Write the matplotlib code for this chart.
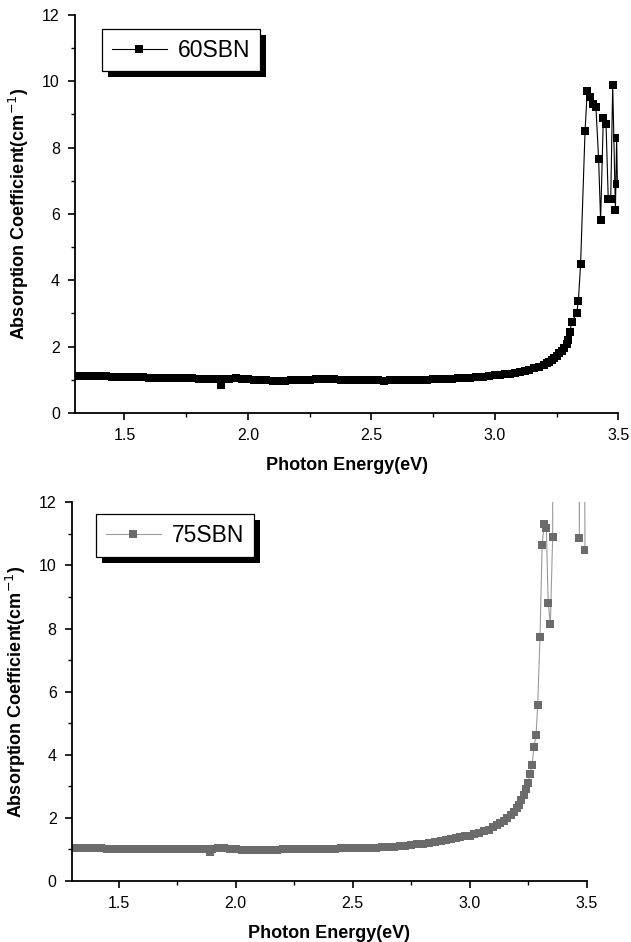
import matplotlib
matplotlib.use("Agg")
import matplotlib.pyplot as plt
from matplotlib.ticker import MultipleLocator, AutoMinorLocator, FormatStrFormatter
from matplotlib.patches import Rectangle
from matplotlib.transforms import IdentityTransform

plt.rcParams['font.family'] = ['Liberation Sans', 'DejaVu Sans']

# 60SBN (top panel)
energy_60 = [1.300, 1.325, 1.350, 1.375, 1.400, 1.425, 1.450, 1.475, 1.500, 1.525,
             1.550, 1.575, 1.600, 1.625, 1.650, 1.675, 1.700, 1.725, 1.750, 1.775,
             1.800, 1.825, 1.850, 1.875, 1.890, 1.900, 1.925, 1.950, 1.975, 2.000,
             2.025, 2.050, 2.075, 2.100, 2.125, 2.150, 2.175, 2.200, 2.225, 2.250,
             2.275, 2.300, 2.325, 2.350, 2.375, 2.400, 2.425, 2.450, 2.475, 2.500,
             2.525, 2.550, 2.575, 2.600, 2.625, 2.650, 2.675, 2.700, 2.725, 2.750,
             2.775, 2.800, 2.825, 2.850, 2.875, 2.900, 2.925, 2.950, 2.975, 3.000,
             3.020, 3.040, 3.060, 3.080, 3.100, 3.120, 3.140, 3.160, 3.180, 3.200,
             3.210, 3.220, 3.230, 3.240, 3.250, 3.260, 3.270, 3.280, 3.290, 3.297,
             3.304, 3.311, 3.331, 3.338, 3.347, 3.365, 3.374, 3.385, 3.396, 3.409,
             3.420, 3.428, 3.439, 3.450, 3.459, 3.469, 3.477, 3.488, 3.493, 3.496]
alpha_60 = [1.12, 1.12, 1.11, 1.11, 1.10, 1.10, 1.09, 1.09, 1.08, 1.08,
            1.07, 1.07, 1.06, 1.06, 1.05, 1.05, 1.05, 1.04, 1.04, 1.04,
            1.03, 1.03, 1.03, 1.02, 0.85, 1.02, 1.01, 1.04, 1.03, 1.01,
            1.00, 0.99, 0.98, 0.97, 0.95, 0.96, 0.98, 0.99, 1.00, 1.00,
            1.01, 1.01, 1.01, 1.01, 1.00, 1.00, 1.00, 1.00, 0.99, 0.99,
            0.98, 0.97, 0.98, 0.99, 0.99, 1.00, 1.00, 1.00, 1.00, 1.01,
            1.01, 1.02, 1.03, 1.04, 1.05, 1.06, 1.08, 1.09, 1.11, 1.13,
            1.15, 1.17, 1.19, 1.21, 1.24, 1.27, 1.30, 1.35, 1.40, 1.46,
            1.50, 1.55, 1.60, 1.66, 1.72, 1.80, 1.88, 1.97, 2.08, 2.20,
            2.45, 2.75, 3.00, 3.38, 4.49, 8.50, 9.70, 9.53, 9.32, 9.23,
            7.65, 5.81, 8.88, 8.72, 6.44, 6.44, 9.88, 6.13, 8.30, 6.90]

# 75SBN (bottom panel), a few points lie far above the axis top
energy_75 = [1.300, 1.325, 1.350, 1.375, 1.400, 1.425, 1.450, 1.475, 1.500, 1.525,
             1.550, 1.575, 1.600, 1.625, 1.650, 1.675, 1.700, 1.725, 1.750, 1.775,
             1.800, 1.825, 1.850, 1.875, 1.890, 1.900, 1.925, 1.950, 1.975, 2.000,
             2.025, 2.050, 2.075, 2.100, 2.125, 2.150, 2.175, 2.200, 2.225, 2.250,
             2.275, 2.300, 2.325, 2.350, 2.375, 2.400, 2.425, 2.450, 2.475, 2.500,
             2.525, 2.550, 2.575, 2.600, 2.625, 2.650, 2.675, 2.700, 2.725, 2.750,
             2.775, 2.800, 2.825, 2.850, 2.875, 2.900, 2.920, 2.940, 2.960, 2.980,
             3.000, 3.020, 3.040, 3.060, 3.080, 3.100, 3.115, 3.130, 3.145, 3.160,
             3.175, 3.188, 3.200, 3.210, 3.220, 3.230, 3.240, 3.249, 3.257, 3.266,
             3.274, 3.283, 3.290, 3.300, 3.309, 3.318, 3.327, 3.335, 3.344, 3.354,
             3.357, 3.465, 3.468, 3.478, 3.492]
alpha_75 = [1.03, 1.03, 1.03, 1.03, 1.03, 1.03, 1.02, 1.02, 1.02, 1.02,
            1.02, 1.02, 1.02, 1.02, 1.02, 1.02, 1.02, 1.02, 1.02, 1.02,
            1.02, 1.02, 1.02, 1.02, 0.92, 1.01, 1.03, 1.03, 1.01, 1.00,
            0.99, 0.99, 0.98, 0.98, 0.97, 0.98, 0.99, 1.00, 1.00, 1.01,
            1.01, 1.01, 1.01, 1.02, 1.02, 1.02, 1.02, 1.03, 1.03, 1.03,
            1.03, 1.04, 1.05, 1.06, 1.07, 1.08, 1.09, 1.10, 1.12, 1.14,
            1.16, 1.18, 1.21, 1.24, 1.27, 1.30, 1.32, 1.35, 1.38, 1.41,
            1.44, 1.48, 1.53, 1.58, 1.63, 1.70, 1.76, 1.83, 1.90, 1.98,
            2.08, 2.19, 2.30, 2.42, 2.56, 2.72, 2.90, 3.10, 3.38, 3.67,
            4.25, 4.62, 5.57, 7.73, 10.66, 11.30, 11.20, 8.80, 8.13, 10.90,
            40.0, 40.0, 10.87, 40.0, 10.50]

fig = plt.figure(figsize=(6.31, 9.42), dpi=100)
ax1 = fig.add_axes([0.119, 0.5616, 0.861, 0.4225])
ax2 = fig.add_axes([0.114, 0.0648, 0.816, 0.4020])


def style_axes(ax):
    ax.set_xlim(1.3, 3.5)
    ax.set_ylim(0, 12)
    ax.xaxis.set_major_locator(MultipleLocator(0.5))
    ax.xaxis.set_minor_locator(AutoMinorLocator(2))
    ax.yaxis.set_major_locator(MultipleLocator(2))
    ax.yaxis.set_minor_locator(AutoMinorLocator(2))
    ax.xaxis.set_major_formatter(FormatStrFormatter('%.1f'))
    for side in ['top', 'right']:
        ax.spines[side].set_visible(False)
    for side in ['left', 'bottom']:
        ax.spines[side].set_linewidth(1.3)
    ax.tick_params(which='major', direction='out', length=5, width=1.2,
                   labelsize=11.5, pad=6)
    ax.tick_params(which='minor', direction='out', length=3, width=1.0)
    ax.set_xlabel('Photon Energy(eV)', fontsize=13, fontweight='bold', labelpad=10)
    ax.set_ylabel('Absorption Coefficient(cm$^{-1}$)', fontsize=13,
                  fontweight='bold', labelpad=8)


def add_legend(ax, anchor):
    leg = ax.legend(loc='upper left', bbox_to_anchor=anchor, borderaxespad=0,
                    fontsize=16.5, fancybox=False, framealpha=1, edgecolor='black',
                    handlelength=2.4, handletextpad=0.5, borderpad=0.42)
    leg.get_frame().set_linewidth(0.9)
    fig.canvas.draw()
    bb = leg.get_window_extent()
    shadow = Rectangle((bb.x0 + 6, bb.y0 - 6), bb.width, bb.height,
                       transform=IdentityTransform(), facecolor='black',
                       edgecolor='none', zorder=4.9, clip_on=False)
    ax.add_artist(shadow)


ax1.plot(energy_60, alpha_60, color='black', lw=0.8, marker='s', markersize=6.2,
         markeredgewidth=0, label='60SBN')
style_axes(ax1)
add_legend(ax1, (0.05, 0.965))

ax2.plot(energy_75, alpha_75, color='#9a9a9a', lw=0.8, marker='s', markersize=5.8,
         markerfacecolor='#6b6b6b', markeredgewidth=0, label='75SBN')
style_axes(ax2)
add_legend(ax2, (0.047, 0.968))

fig.savefig('out.png', dpi=100)
